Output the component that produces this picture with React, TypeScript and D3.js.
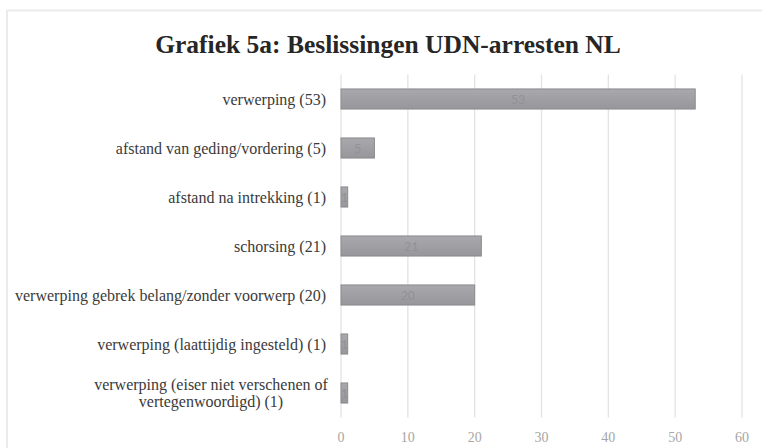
import React from 'react';
import * as d3 from 'd3';

const categories = [
  'verwerping (53)',
  'afstand van geding/vordering (5)',
  'afstand na intrekking (1)',
  'schorsing (21)',
  'verwerping gebrek belang/zonder voorwerp (20)',
  'verwerping (laattijdig ingesteld) (1)',
  'verwerping (eiser niet verschenen of|vertegenwoordigd) (1)',
];
const values = [53, 5, 1, 21, 20, 1, 1];
const xTicks = [0, 10, 20, 30, 40, 50, 60];

const width = 762;
const height = 448;
const margin = { top: 74.5, right: 20, bottom: 30.5, left: 341 };
const serif = 'Liberation Serif';

const App = () => {
  const x = d3.scaleLinear().domain([0, 60]).range([margin.left, 742]);
  const y = d3
    .scaleBand<number>()
    .domain(d3.range(categories.length))
    .range([margin.top, height - margin.bottom])
    .paddingInner(0.59)
    .paddingOuter(0.295);
  const bh = y.bandwidth();

  return (
    <svg
      width={width}
      height={height}
      style={{ position: 'absolute', left: 0, top: 0, background: '#fff' }}
    >
      <defs>
        <linearGradient id="barFill" x1="0" y1="0" x2="0" y2="1">
          <stop offset="0%" stopColor="#a9a9ad" />
          <stop offset="100%" stopColor="#97979b" />
        </linearGradient>
      </defs>

      {/* chart frame */}
      <rect x={7} y={10.5} width={width} height={height} fill="none" stroke="#ebebeb" strokeWidth={2} />

      {/* title */}
      <text
        x={388}
        y={53}
        textAnchor="middle"
        fontFamily={serif}
        fontWeight="bold"
        fontSize={25.5}
        fill="#262626"
      >
        Grafiek 5a: Beslissingen UDN-arresten NL
      </text>

      {/* gridlines */}
      {xTicks.map((t) => (
        <line
          key={t}
          x1={x(t)}
          x2={x(t)}
          y1={margin.top}
          y2={height - margin.bottom}
          stroke="#e3e3e3"
          strokeWidth={1.3}
        />
      ))}

      {/* tick labels */}
      {xTicks.map((t) => (
        <text
          key={'l' + t}
          x={x(t)}
          y={437}
          dy="0.35em"
          textAnchor="middle"
          fontFamily={serif}
          fontSize={14}
          fill="#a6a6a6"
        >
          {t}
        </text>
      ))}

      {/* bars */}
      {values.map((v, i) => {
        const yc = (y(i) as number) + bh / 2;
        return (
          <g key={i}>
            <rect
              x={x(0)}
              y={y(i)}
              width={x(v) - x(0)}
              height={bh}
              fill="url(#barFill)"
              stroke="#8b8b8f"
              strokeWidth={1}
            />
            <text
              x={(x(0) + x(v)) / 2}
              y={yc}
              dy="0.35em"
              textAnchor="middle"
              fontFamily="Carlito"
              fontSize={14}
              fill="#929296"
            >
              {v}
            </text>
          </g>
        );
      })}

      {/* category labels */}
      {categories.map((c, i) => {
        const lines = c.split('|');
        const yc = (y(i) as number) + bh / 2;
        const lh = 17;
        if (lines.length === 1) {
          return (
            <text
              key={c}
              x={326}
              y={yc}
              dy="0.35em"
              textAnchor="end"
              fontFamily={serif}
              fontSize={16}
              fill="#3a3a3a"
            >
              {c}
            </text>
          );
        }
        return (
          <text
            key={c}
            x={211}
            y={yc - ((lines.length - 1) * lh) / 2}
            textAnchor="middle"
            fontFamily={serif}
            fontSize={16}
            fill="#3a3a3a"
          >
            {lines.map((l, j) => (
              <tspan key={j} x={211} dy={j === 0 ? '0.35em' : lh}>
                {l}
              </tspan>
            ))}
          </text>
        );
      })}
    </svg>
  );
};

export default App;
